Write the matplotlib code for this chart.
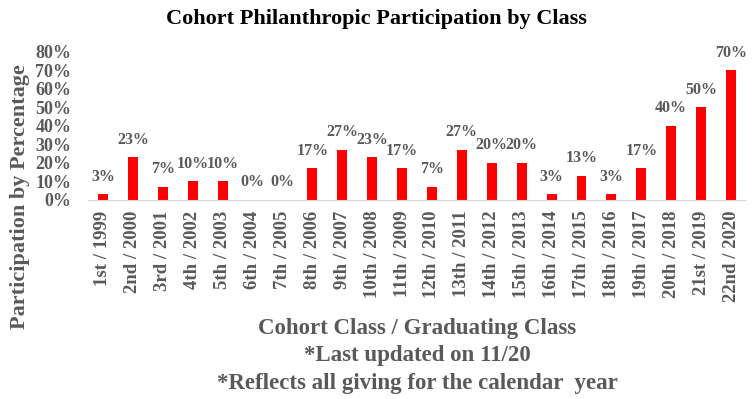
import matplotlib.pyplot as plt
import numpy as np
from matplotlib.ticker import PercentFormatter

# data
cohorts = ['1st', '2nd', '3rd', '4th', '5th', '6th', '7th', '8th', '9th', '10th', '11th',
           '12th', '13th', '14th', '15th', '16th', '17th', '18th', '19th', '20th', '21st', '22nd']
years = list(range(1999, 2021))
participation = [3, 23, 7, 10, 10, 0, 0, 17, 27, 23, 17, 7, 27, 20, 20, 3, 13, 3, 17, 40, 50, 70]

labels = [f"{c} / {y}" for c, y in zip(cohorts, years)]
gray = '#595959'

plt.rcParams['font.family'] = ['Liberation Serif', 'DejaVu Serif']
plt.rcParams['font.weight'] = 'bold'

fig = plt.figure(figsize=(7.52, 3.99), dpi=100)
ax = fig.add_axes([0.117, 0.50, 0.875, 0.37])

x = np.arange(len(participation))
bars = ax.bar(x, participation, width=0.33, color='#ff0000')

for xi, v in zip(x, participation):
    ax.text(xi, v + 5, f"{v}%", ha='center', va='bottom', fontsize=11.5,
            color=gray, fontweight='bold')

ax.set_ylim(0, 80)
ax.set_xlim(-0.5, len(participation) - 0.5)
ax.set_yticks(range(0, 81, 10))
ax.yaxis.set_major_formatter(PercentFormatter(decimals=0))
ax.set_xticks(x)
ax.set_xticklabels(labels, rotation=90, fontsize=13.5, color=gray, fontweight='bold')
ax.tick_params(axis='y', labelsize=13, colors=gray, length=0, pad=12)
ax.tick_params(axis='x', length=0, pad=8)

for s in ['top', 'right', 'left']:
    ax.spines[s].set_visible(False)
ax.spines['bottom'].set_color('#d9d9d9')

ax.set_ylabel("Participation by Percentage", fontsize=16, color=gray,
              fontweight='bold')
ax.yaxis.set_label_coords(-0.088, 0.02)

fig.text(0.5, 0.953, "Cohort Philanthropic Participation by Class", ha='center',
         va='center', fontsize=16, fontweight='bold', color='black')

fig.text(0.555, 0.108, "Cohort Class / Graduating Class\n*Last updated on 11/20\n*Reflects all giving for the calendar  year",
         ha='center', va='center', fontsize=16.5, fontweight='bold', color=gray,
         linespacing=1.42)

plt.savefig('out.png', dpi=100)
